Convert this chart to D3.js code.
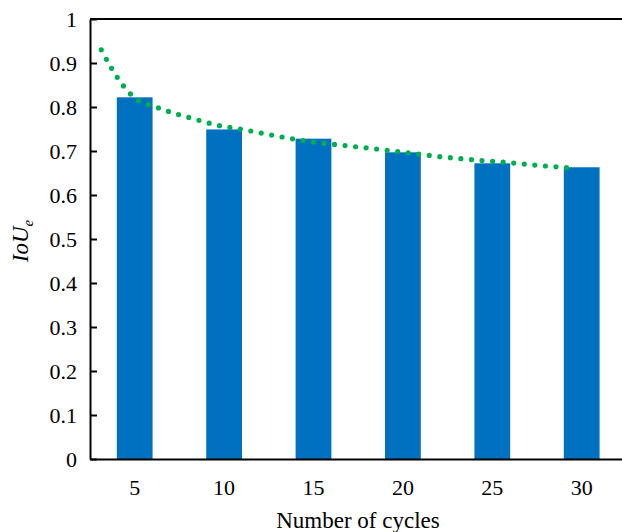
<!DOCTYPE html>
<html>
<head>
<meta charset="utf-8">
<script src="https://cdn.jsdelivr.net/npm/d3@7"></script>
<style>
  html, body { margin: 0; padding: 0; background: #fff; }
  svg { display: block; }
  svg text { font-family: "Liberation Serif", "Times New Roman", "DejaVu Serif", serif !important; fill: #000; }
</style>
</head>
<body>
<svg id="chart" width="622" height="532" font-family="Liberation Serif, serif"></svg>
<script>
// Cycle counts on the category axis and the IoU_e reached at each
const cycles = ["5", "10", "15", "20", "25", "30"];
const iouValues = [0.822, 0.749, 0.728, 0.697, 0.672, 0.663];

// Dotted trend curve: [number of cycles, IoU_e]
const trendCycles = [3.13, 3.69, 4.33, 5.02, 6.12, 7.20, 8.32, 9.47, 11.17, 12.94,
                     14.73, 16.59, 18.44, 20.25, 22.11, 23.92, 25.80, 27.65, 29.53];
const trendValues = [0.930, 0.889, 0.850, 0.820, 0.801, 0.786, 0.773, 0.760, 0.748, 0.734,
                     0.722, 0.713, 0.705, 0.696, 0.687, 0.680, 0.674, 0.667, 0.661];

const yTicks = [0, 0.1, 0.2, 0.3, 0.4, 0.5, 0.6, 0.7, 0.8, 0.9, 1];
const yTickLabels = ["0", "0.1", "0.2", "0.3", "0.4", "0.5", "0.6", "0.7", "0.8", "0.9", "1"];

const svg = d3.select("#chart");
const plotLeft = 90, plotRight = 626.4, plotTop = 19, plotBottom = 459;

const x = d3.scaleBand().domain(cycles).range([plotLeft, plotRight])
  .paddingInner(0.6).paddingOuter(0.3);
const xCont = d3.scaleLinear().domain([2.5, 32.5]).range([plotLeft, plotRight]);
const y = d3.scaleLinear().domain([0, 1]).range([plotBottom, plotTop]);

// Bars
svg.append("g")
  .selectAll("rect")
  .data(iouValues)
  .join("rect")
  .attr("x", (d, i) => x(cycles[i]))
  .attr("y", d => y(d))
  .attr("width", x.bandwidth())
  .attr("height", d => y(0) - y(d))
  .attr("fill", "#0070C0");

// Trend curve drawn as round dots
const trend = trendCycles.map((c, i) => [c, trendValues[i]]);
svg.append("path")
  .datum(trend)
  .attr("d", d3.line().x(d => xCont(d[0])).y(d => y(d[1])).curve(d3.curveMonotoneX))
  .attr("fill", "none")
  .attr("stroke", "#00B050")
  .attr("stroke-width", 5.2)
  .attr("stroke-linecap", "round")
  .attr("stroke-dasharray", "0,10.6");

// Y axis with inward ticks
const yAxis = svg.append("g")
  .attr("transform", `translate(${plotLeft},0)`)
  .call(d3.axisLeft(y).tickValues(yTicks)
    .tickFormat((d, i) => yTickLabels[i])
    .tickSizeInner(-7).tickSizeOuter(0).tickPadding(13))
  .attr("font-family", null).attr("font-size", null);
yAxis.select(".domain").attr("stroke", "#000").attr("stroke-width", 2);
yAxis.selectAll(".tick line").attr("stroke", "#000").attr("stroke-width", 2);
yAxis.selectAll("text").style("font-size", "22px");

// X axis (labels only, no tick marks)
const xAxis = svg.append("g")
  .attr("transform", `translate(0,${plotBottom})`)
  .call(d3.axisBottom(x).tickSize(0).tickPadding(20))
  .attr("font-family", null).attr("font-size", null);
xAxis.select(".domain").attr("stroke", "#000").attr("stroke-width", 2);
xAxis.selectAll("text").style("font-size", "22px");

// Top frame line
svg.append("line")
  .attr("x1", plotLeft).attr("x2", plotRight)
  .attr("y1", plotTop).attr("y2", plotTop)
  .attr("stroke", "#000").attr("stroke-width", 2);

// Axis titles
svg.append("text")
  .attr("x", 358).attr("y", 528)
  .attr("text-anchor", "middle")
  .style("font-size", "23px")
  .text("Number of cycles");

const yTitle = svg.append("text")
  .attr("transform", "translate(28,241) rotate(-90)")
  .attr("text-anchor", "middle")
  .style("font-size", "23px")
  .style("font-style", "italic");
yTitle.append("tspan").text("IoU");
yTitle.append("tspan").attr("dy", 5).style("font-size", "15px").text("e");
</script>
</body>
</html>
